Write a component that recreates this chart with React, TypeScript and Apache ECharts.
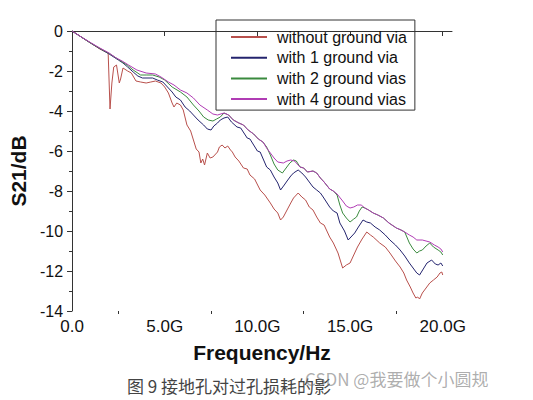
import { useEffect, useRef } from "react";
import * as echarts from "echarts";

const seriesNames = [
  "without ground via",
  "with 1 ground via",
  "with 2 ground vias",
  "with 4 ground vias",
];
const seriesColors = ["#b8504c", "#24246e", "#3a8a3e", "#b03cb4"];

const majorFreqTicks = [0, 5, 10, 15, 20];
const minorFreqTicks = [2.5, 7.5, 12.5, 17.5];

// [frequency in GHz, S21 in dB]
const withoutVia: number[][] = [
  [0, 0], [0.5, -0.3], [1.0, -0.6], [1.5, -0.9], [1.95, -1.1], [2.05, -3.9], [2.15, -2.6],
  [2.25, -1.8], [2.4, -1.7], [2.55, -2.6], [2.62, -2.4], [2.75, -1.85], [3.0, -2.0], [3.2, -2.1],
  [3.45, -2.5], [3.7, -2.55], [4.0, -2.6], [4.25, -2.55], [4.5, -2.5], [4.8, -2.6], [5.0, -2.8],
  [5.2, -3.1], [5.4, -3.6], [5.5, -3.8], [5.65, -3.6], [5.85, -3.7], [6.0, -3.95], [6.2, -4.7],
  [6.4, -5.0], [6.55, -5.45], [6.7, -5.9], [6.85, -6.05], [6.95, -6.6], [7.05, -6.4], [7.15, -6.7],
  [7.3, -6.1], [7.45, -6.35], [7.6, -6.3], [7.85, -6.05], [7.95, -5.8], [8.1, -5.7], [8.25, -5.85],
  [8.4, -5.75], [8.55, -5.95], [8.65, -6.05], [8.8, -6.3], [9.0, -6.5], [9.25, -6.85], [9.45, -6.9],
  [9.6, -7.2], [9.85, -7.4], [10.15, -7.95], [10.4, -8.2], [10.7, -8.6], [10.9, -8.9], [11.1, -9.1],
  [11.25, -9.45], [11.4, -9.3], [11.6, -8.95], [11.8, -8.6], [11.95, -8.35], [12.2, -8.1],
  [12.4, -8.3], [12.6, -8.45], [12.8, -8.8], [13.0, -8.95], [13.2, -9.3], [13.4, -9.6],
  [13.6, -9.7], [13.9, -10.3], [14.1, -10.6], [14.35, -11.1], [14.6, -11.85], [14.8, -11.7],
  [15.0, -11.6], [15.2, -11.2], [15.4, -10.8], [15.65, -10.4], [15.9, -10.05], [16.1, -10.2],
  [16.25, -10.3], [16.6, -10.6], [16.9, -10.8], [17.15, -11.1], [17.45, -11.5], [17.7, -11.8],
  [17.9, -12.1], [18.05, -12.45], [18.25, -12.8], [18.4, -13.1], [18.55, -13.35], [18.65, -13.3],
  [18.75, -13.4], [18.9, -13.1], [19.1, -12.85], [19.3, -12.6], [19.5, -12.45], [19.7, -12.3],
  [19.85, -12.1], [19.95, -12.05], [20.0, -12.2],
];

const oneVia: number[][] = [
  [0, 0], [0.5, -0.3], [1.0, -0.6], [1.5, -0.88], [2.0, -1.15], [2.5, -1.45], [2.75, -1.6],
  [3.0, -1.8], [3.3, -2.05], [3.55, -2.25], [3.8, -2.35], [4.1, -2.35], [4.35, -2.35], [4.6, -2.45],
  [4.9, -2.55], [5.15, -2.8], [5.4, -3.05], [5.6, -3.3], [5.85, -3.45], [6.1, -3.8], [6.35, -4.0],
  [6.55, -4.2], [6.8, -4.45], [7.1, -4.7], [7.3, -4.9], [7.5, -4.95], [7.65, -4.75], [7.85, -4.6],
  [8.0, -4.45], [8.2, -4.35], [8.4, -4.3], [8.6, -4.55], [8.9, -4.8], [9.1, -4.85], [9.45, -5.35],
  [9.6, -5.4], [10.0, -6.0], [10.15, -6.05], [10.5, -6.8], [10.7, -6.95], [10.9, -7.3], [11.1, -7.6],
  [11.25, -7.95], [11.45, -7.7], [11.6, -7.5], [11.8, -7.25], [11.95, -7.1], [12.2, -6.95],
  [12.4, -7.1], [12.6, -7.3], [12.8, -7.55], [13.0, -7.8], [13.2, -7.95], [13.4, -8.1],
  [13.55, -8.3], [13.9, -8.8], [14.1, -9.0], [14.3, -9.1], [14.45, -9.6], [14.7, -10.0],
  [14.9, -10.45], [15.05, -10.3], [15.25, -10.1], [15.45, -9.8], [15.7, -9.45], [15.9, -9.55],
  [16.1, -9.6], [16.35, -9.8], [16.6, -9.95], [16.9, -10.2], [17.15, -10.45], [17.45, -10.7],
  [17.7, -10.95], [17.95, -11.25], [18.2, -11.6], [18.4, -11.85], [18.6, -12.1], [18.75, -12.2],
  [18.95, -11.9], [19.15, -11.6], [19.4, -11.45], [19.6, -11.65], [19.75, -11.7], [19.9, -11.6],
  [20.0, -11.75],
];

const twoVias: number[][] = [
  [0, 0], [0.5, -0.3], [1.0, -0.6], [1.5, -0.87], [2.0, -1.12], [2.5, -1.42], [3.0, -1.72],
  [3.3, -1.95], [3.7, -2.2], [4.0, -2.2], [4.35, -2.2], [4.7, -2.3], [5.0, -2.45], [5.4, -2.8],
  [5.85, -3.05], [6.2, -3.3], [6.55, -3.7], [6.85, -4.0], [7.1, -4.3], [7.35, -4.45], [7.6, -4.5],
  [7.8, -4.4], [8.0, -4.3], [8.2, -4.1], [8.45, -4.2], [8.7, -4.45], [9.0, -4.6], [9.25, -4.7],
  [9.5, -4.95], [9.8, -5.15], [10.05, -5.4], [10.3, -5.55], [10.5, -5.8], [10.7, -6.2],
  [10.9, -6.65], [11.1, -6.95], [11.35, -7.1], [11.55, -6.85], [11.75, -6.6], [11.95, -6.45],
  [12.1, -6.5], [12.3, -6.8], [12.5, -6.85], [12.7, -7.05], [13.0, -7.0], [13.2, -7.1],
  [13.4, -7.35], [13.6, -7.55], [13.9, -7.9], [14.1, -8.0], [14.3, -8.2], [14.45, -8.7],
  [14.6, -9.1], [14.8, -9.35], [15.0, -9.55], [15.2, -9.4], [15.35, -9.3], [15.5, -9.0],
  [15.65, -8.8], [15.8, -8.85], [16.0, -8.95], [16.25, -9.1], [16.5, -9.2], [16.8, -9.35],
  [17.1, -9.6], [17.5, -9.85], [17.75, -9.95], [17.95, -10.05], [18.2, -10.6], [18.4, -10.9],
  [18.6, -11.1], [18.75, -11.0], [18.9, -10.95], [19.1, -10.75], [19.3, -10.6], [19.5, -10.8],
  [19.75, -10.95], [19.9, -11.05], [20.0, -11.2],
];

const fourVias: number[][] = [
  [0, 0], [0.5, -0.3], [1.0, -0.58], [1.5, -0.85], [2.0, -1.1], [2.35, -1.33], [2.7, -1.5],
  [3.05, -1.7], [3.5, -1.95], [4.0, -2.1], [4.5, -2.15], [4.8, -2.3], [5.2, -2.55], [5.5, -2.7],
  [5.85, -2.95], [6.2, -3.1], [6.55, -3.35], [6.9, -3.7], [7.3, -3.95], [7.6, -4.15], [7.85, -4.2],
  [8.2, -4.1], [8.45, -4.2], [8.7, -4.45], [9.0, -4.6], [9.25, -4.7], [9.5, -4.95], [9.8, -5.15],
  [10.05, -5.4], [10.3, -5.55], [10.5, -5.85], [10.7, -6.1], [10.9, -6.35], [11.1, -6.55],
  [11.4, -6.6], [11.6, -6.5], [11.8, -6.45], [12.0, -6.5], [12.3, -6.8], [12.5, -6.85],
  [12.7, -7.05], [13.0, -7.0], [13.2, -7.1], [13.4, -7.35], [13.6, -7.55], [13.9, -7.9],
  [14.1, -8.0], [14.3, -8.15], [14.6, -8.5], [14.8, -8.75], [15.0, -8.85], [15.2, -8.8],
  [15.4, -8.7], [15.6, -8.7], [15.8, -8.85], [16.0, -8.95], [16.25, -9.1], [16.5, -9.2],
  [16.8, -9.35], [17.1, -9.6], [17.5, -9.85], [17.75, -9.95], [17.95, -10.05], [18.2, -10.2],
  [18.4, -10.3], [18.6, -10.45], [18.9, -10.45], [19.1, -10.5], [19.3, -10.55], [19.55, -10.7],
  [19.75, -10.8], [19.9, -10.9], [20.0, -11.05],
];

const allSeries = [withoutVia, oneVia, twoVias, fourVias];

const captionText = "图 9 接地孔对过孔损耗的影";
const watermarkText = "CSDN @我要做个小圆规";

const FONT = "'Liberation Sans', Arial, sans-serif";

export default function App() {
  const ref = useRef<HTMLDivElement>(null);

  useEffect(() => {
    if (!ref.current) return;
    const chart = echarts.init(ref.current, undefined, { renderer: "svg" });
    chart.setOption({
      animation: false,
      backgroundColor: "#ffffff",
      grid: { left: 71, top: 31, width: 381, height: 280, containLabel: false },
      legend: {
        left: 216,
        top: 20,
        orient: "vertical",
        data: seriesNames,
        borderColor: "#333",
        borderWidth: 1,
        padding: [9, 8, 3, 14],
        itemWidth: 36,
        itemHeight: 16,
        itemGap: 4.7,
        itemStyle: { opacity: 0 },
        textStyle: { fontFamily: FONT, fontSize: 16, color: "#111", padding: [0, 0, 0, 5] },
      },
      xAxis: [
        {
          type: "value",
          min: 0,
          max: 20.5,
          interval: 5,
          name: "Frequency/Hz",
          nameLocation: "middle",
          nameGap: 31,
          nameTextStyle: { fontFamily: FONT, fontSize: 21, fontWeight: "bold", color: "#111" },
          axisLine: { show: true, lineStyle: { color: "#333", width: 1 } },
          axisTick: { show: true, length: 5, customValues: majorFreqTicks, lineStyle: { color: "#333" } },
          axisLabel: {
            customValues: majorFreqTicks,
            margin: 7,
            fontFamily: FONT,
            fontSize: 17,
            color: "#111",
            formatter: (v: number) => (v === 0 ? "0.0" : v.toFixed(1) + "G"),
          },
          splitLine: { show: false },
        },
        {
          type: "value",
          min: 0,
          max: 20.5,
          position: "bottom",
          axisLine: { show: false },
          axisTick: { show: true, length: 3, customValues: minorFreqTicks, lineStyle: { color: "#333" } },
          axisLabel: { show: false },
          splitLine: { show: false },
        },
      ],
      yAxis: {
        type: "value",
        min: -14,
        max: 0,
        interval: 2,
        name: "S21/dB",
        nameLocation: "middle",
        nameGap: 36,
        nameTextStyle: { fontFamily: FONT, fontSize: 21, fontWeight: "bold", color: "#111" },
        axisLine: { show: true, lineStyle: { color: "#333", width: 1 } },
        axisTick: { show: true, length: 5, lineStyle: { color: "#333" } },
        minorTick: { show: true, splitNumber: 2, length: 3, lineStyle: { color: "#333" } },
        axisLabel: { margin: 9, fontFamily: FONT, fontSize: 16, color: "#111" },
        splitLine: { show: false },
      },
      series: allSeries.map((data, i) => ({
        name: seriesNames[i],
        type: "line",
        data,
        xAxisIndex: 0,
        symbol: "none",
        showSymbol: false,
        color: seriesColors[i],
        lineStyle: { width: 1, color: seriesColors[i] },
      })),
      graphic: [
        {
          type: "text",
          left: 127,
          top: 377,
          style: {
            text: captionText,
            fontFamily: "'Noto Sans CJK SC', sans-serif",
            fontSize: 17,
            fill: "#444",
          },
        },
        {
          type: "text",
          left: 305,
          top: 370,
          style: {
            text: watermarkText,
            fontFamily: "'Noto Sans CJK SC', sans-serif",
            fontSize: 17,
            fill: "rgba(120,120,120,0.6)",
          },
        },
      ],
    });
    return () => chart.dispose();
  }, []);

  return (
    <div
      ref={ref}
      style={{ position: "fixed", left: 0, top: 0, width: 533, height: 400, background: "#fff" }}
    />
  );
}
